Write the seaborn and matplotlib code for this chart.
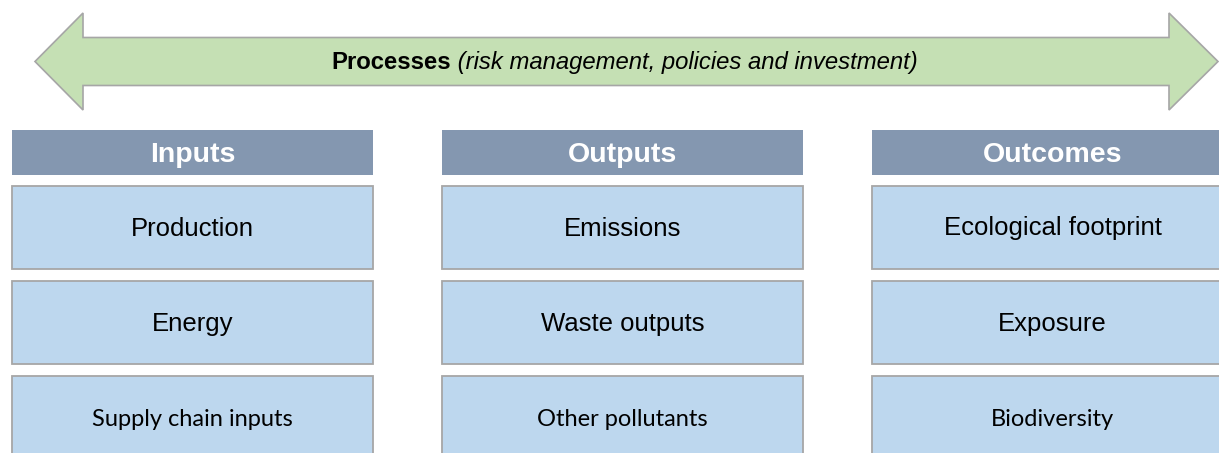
import matplotlib.pyplot as plt
import matplotlib.patches as mpatches
import seaborn as sns

# diagram content
column_titles = ["Inputs", "Outputs", "Outcomes"]
inputs_items = ["Production", "Energy", "Supply chain inputs"]
outputs_items = ["Emissions", "Waste outputs", "Other pollutants"]
outcomes_items = ["Ecological footprint", "Exposure", "Biodiversity"]
process_title = "Processes"
process_note = "(risk management, policies and investment)"

sns.set_theme(style="white")
plt.rcParams['font.family'] = ['Liberation Sans', 'DejaVu Sans']
plt.rcParams['text.color'] = 'black'

W, H = 1219, 453
fig = plt.figure(figsize=(W / 100, H / 100), dpi=100)
ax = fig.add_axes([0, 0, 1, 1])
ax.set_xlim(0, W)
ax.set_ylim(H, 0)
ax.axis('off')

ARROW_FILL = '#c5e0b4'
HEADER_FILL = '#8497b0'
BOX_FILL = '#bdd7ee'
EDGE = '#a6a6a6'

# double headed arrow across the top
tip_l, tip_r = 35, 1218
head_l, head_r = 83, 1169
mid, half_shaft, half_head = 61.5, 24, 48.5
pts = [(tip_l, mid), (head_l, mid - half_head), (head_l, mid - half_shaft),
       (head_r, mid - half_shaft), (head_r, mid - half_head), (tip_r, mid),
       (head_r, mid + half_head), (head_r, mid + half_shaft),
       (head_l, mid + half_shaft), (head_l, mid + half_head)]
ax.add_patch(mpatches.Polygon(pts, closed=True, facecolor=ARROW_FILL,
                              edgecolor=EDGE, linewidth=1.2))

fig.canvas.draw()
renderer = fig.canvas.get_renderer()
t1 = ax.text(0, mid + 1, process_title, fontsize=17.2, fontweight='bold',
             va='center', ha='left')
t2 = ax.text(0, mid + 1, " " + process_note, fontsize=17.2, fontstyle='italic',
             va='center', ha='left')
w1 = t1.get_window_extent(renderer).width
w2 = t2.get_window_extent(renderer).width
x_start = 625 - (w1 + w2) / 2
t1.set_x(x_start)
t2.set_x(x_start + w1)

# columns
col_x0, col_pitch, col_w = 12, 430, 361
head_y, head_h = 130, 45
row_y0, row_pitch, row_h = 186, 95, 83
columns = [inputs_items, outputs_items, outcomes_items]

for ci, (title, items) in enumerate(zip(column_titles, columns)):
    x0 = col_x0 + ci * col_pitch
    ax.add_patch(mpatches.Rectangle((x0, head_y), col_w, head_h,
                                    facecolor=HEADER_FILL, edgecolor='none'))
    ax.text(x0 + col_w / 2, head_y + head_h / 2 + 2, title, color='white',
            fontsize=20.5, fontweight='bold', ha='center', va='center')
    for ri, label in enumerate(items):
        y0 = row_y0 + ri * row_pitch
        ax.add_patch(mpatches.Rectangle((x0, y0), col_w, row_h,
                                        facecolor=BOX_FILL, edgecolor=EDGE,
                                        linewidth=1.3))
        if ri == 2:
            ax.text(x0 + col_w / 2, y0 + row_h / 2 + 1.5, label, fontsize=17,
                    family=['Lato', 'DejaVu Sans'], ha='center', va='center')
        else:
            ax.text(x0 + col_w / 2, y0 + row_h / 2 + 1, label, fontsize=18.5,
                    ha='center', va='center')

fig.savefig('out.png', dpi=100)
plt.close(fig)
